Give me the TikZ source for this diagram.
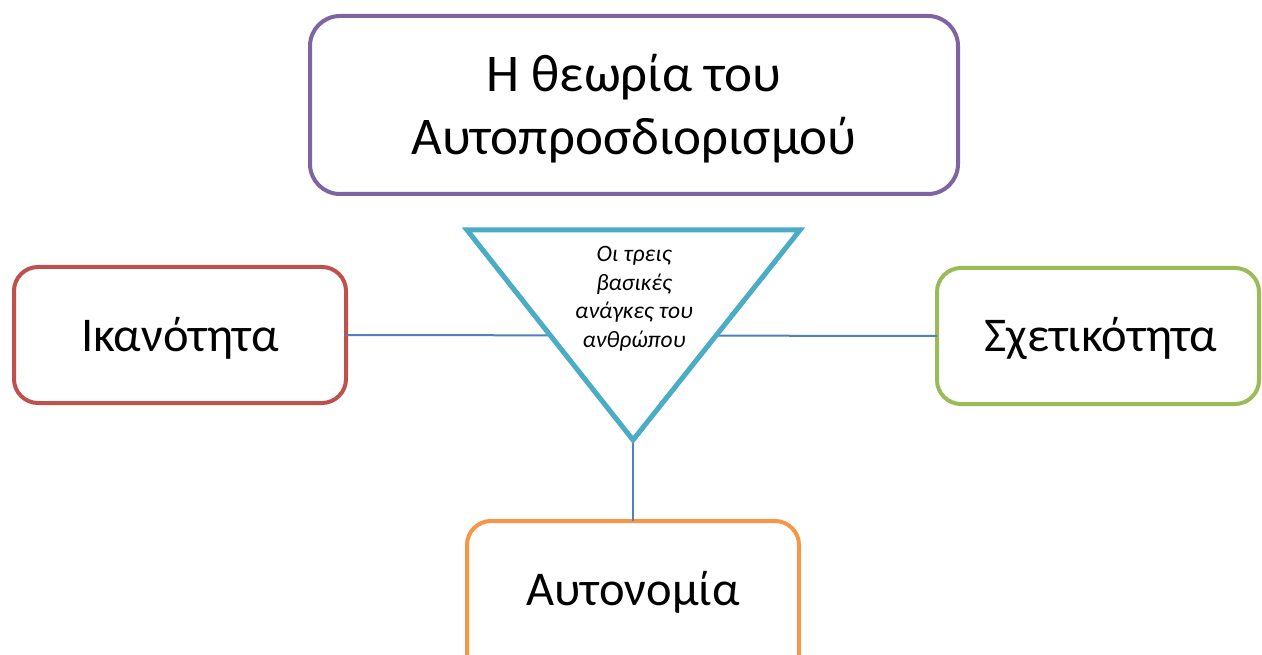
\documentclass[tikz,border=0pt]{standalone}
\usepackage{fontspec}
\setmainfont{Carlito}
\definecolor{cpurple}{HTML}{8064A2}
\definecolor{cred}{HTML}{C0504D}
\definecolor{cgreen}{HTML}{9BBB59}
\definecolor{corange}{HTML}{F79646}
\definecolor{ccyan}{HTML}{4BACC6}
\definecolor{cblue}{HTML}{4F81BD}
\tikzset{
  card/.style={draw=#1, line width=4pt, rounded corners=24pt, fill=white,
    inner sep=0pt, outer sep=0pt},
  link/.style={draw=cblue, line width=2pt},
  big/.style={font=\fontsize{48.5}{56}\selectfont, anchor=base, inner sep=0pt},
}
\begin{document}
\begin{tikzpicture}[x=1pt,y=-1pt]
\useasboundingbox (0,0) rectangle (1262,655);
\clip (0,0) rectangle (1262,655);
\fill[white] (0,0) rectangle (1262,655);

% boxes
\node[card=cpurple, rounded corners=30pt, minimum width=648pt, minimum height=178pt] (top) at (634,105) {};
\node[card=cred, minimum width=332pt, minimum height=136pt] (ik) at (180,335) {};
\node[card=cgreen, minimum width=322pt, minimum height=136pt] (sx) at (1098,336) {};
\node[card=corange, minimum width=332pt, minimum height=200pt] (au) at (633,621) {};

% connectors
\coordinate (apex) at (633,440);
\draw[link] (ik.east) -- (sx.west);
\draw[link] (apex) -- (au.north);

% inverted triangle
\coordinate (tl) at (467,230);
\coordinate (tr) at (800,230);
\draw[ccyan, line width=5pt, fill=white, line join=miter] (tl) -- (tr) -- (apex) -- cycle;

% texts (base anchor = baseline of the last line)
\node[font=\fontsize{53}{63}\selectfont, align=center, anchor=base, inner sep=0pt] (toptext) at (634,155)
  {Η θεωρία του\\Αυτοπροσδιορισμού};
\node[big] (iktext) at (180,352) {Ικανότητα};
\node[big] (sxtext) at (1101,352) {Σχετικότητα};
\node[big] (autext) at (633,605) {Αυτονομία};
\node[font=\fontsize{23.5}{29}\selectfont\itshape, align=center, anchor=base, inner sep=0pt] (tritext) at (634,348)
  {Οι τρεις\\βασικές\\ανάγκες του\\ανθρώπου};
\end{tikzpicture}
\end{document}
